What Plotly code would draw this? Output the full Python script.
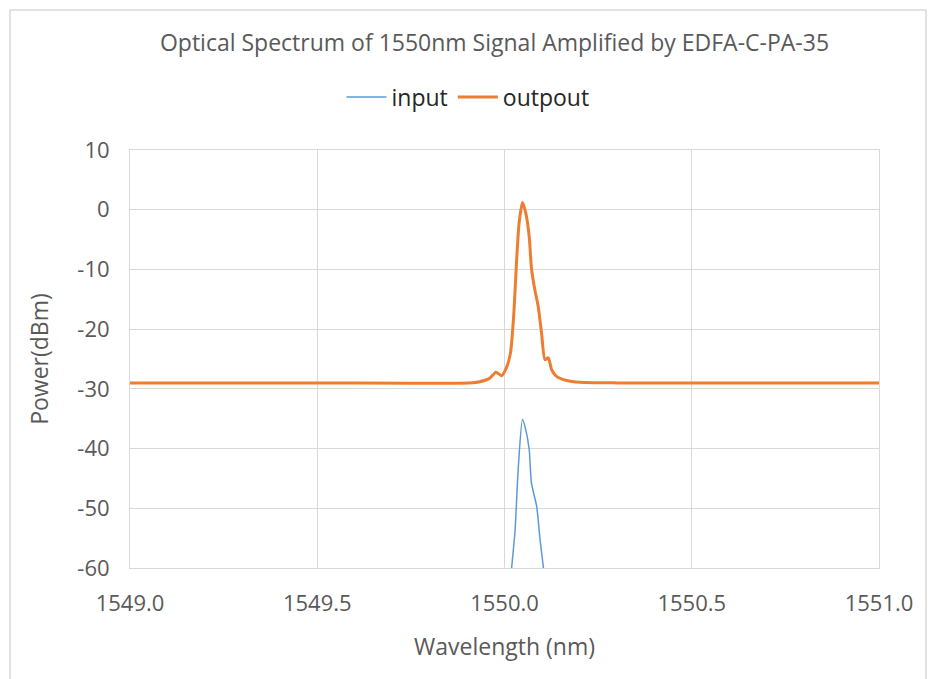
import plotly.graph_objects as go

# Output (amplified) spectrum
out_wl = [1549.0, 1549.5, 1549.905, 1549.934, 1549.961, 1549.977, 1549.992, 1550.005, 1550.016,
          1550.025, 1550.032, 1550.039, 1550.048, 1550.057, 1550.066, 1550.072, 1550.081,
          1550.090, 1550.099, 1550.108, 1550.117, 1550.126, 1550.139, 1550.166, 1550.202,
          1550.3, 1550.5, 1551.0]
out_dbm = [-29.0, -29.0, -29.0, -28.8, -28.2, -27.2, -27.8, -26.5, -24.0,
           -17.3, -8.9, -2.2, 1.2, -0.6, -4.5, -9.8, -13.4,
           -16.2, -20.7, -25.1, -24.8, -26.8, -27.9, -28.6, -28.9,
           -29.0, -29.0, -29.0]

# Input spectrum (below -60 dBm outside the peak)
in_wl = [1550.015, 1550.019, 1550.028, 1550.037, 1550.048, 1550.057, 1550.066, 1550.072,
         1550.086, 1550.095, 1550.104, 1550.107]
in_dbm = [-63.0, -60.0, -53.9, -43.0, -35.1, -36.9, -40.2, -45.8,
          -49.7, -55.3, -60.0, -62.0]

x_ticks = [1549.0, 1549.5, 1550.0, 1550.5, 1551.0]
x_tick_labels = ["1549.0", "1549.5", "1550.0", "1550.5", "1551.0"]
y_ticks = [10, 0, -10, -20, -30, -40, -50, -60]
y_tick_labels = ["10", "0", "-10", "-20", "-30", "-40", "-50", "-60"]

FONT = "'Open Sans', 'Noto Sans', sans-serif"
TXT = "#595959"

L, R, T, B = 130, 879, 150, 568
W, H = 928, 679
PW, PH = R - L, B - T

fig = go.Figure()
fig.add_trace(go.Scatter(x=in_wl, y=in_dbm, mode="lines", name="input",
                         line=dict(color="#5b9bd5", width=1.5, shape="spline", smoothing=0.6)))
fig.add_trace(go.Scatter(x=out_wl, y=out_dbm, mode="lines", name="outpout",
                         line=dict(color="#ed7d31", width=3, shape="spline", smoothing=0.6)))

fig.update_layout(
    width=W, height=H,
    paper_bgcolor="white", plot_bgcolor="white",
    margin=dict(l=L, r=W - R, t=T, b=H - B),
    font=dict(family=FONT, color=TXT, size=22),
    title=dict(text="Optical Spectrum of 1550nm Signal Amplified by EDFA-C-PA-35",
               x=(494.5 - L) / PW, xref="paper", xanchor="center", y=1 - 43 / H, yanchor="middle",
               font=dict(size=23, color=TXT, family=FONT)),
    legend=dict(orientation="h", x=(468 - L) / PW, xanchor="center", y=1 + (T - 97) / PH,
                yanchor="middle", font=dict(size=23, color="#262626", family=FONT),
                itemwidth=40, tracegroupgap=0),
    showlegend=True,
    xaxis=dict(range=[1549.0, 1551.0], tickvals=x_ticks, ticktext=x_tick_labels,
               showgrid=True, gridcolor="#d9d9d9", gridwidth=1,
               showline=True, linecolor="#d9d9d9", mirror=True, linewidth=1,
               zeroline=False, ticks="", ticklabelstandoff=16,
               tickfont=dict(size=22, color=TXT, family=FONT),
               title=dict(text="Wavelength (nm)", font=dict(size=23, color=TXT, family=FONT),
                          standoff=22)),
    yaxis=dict(range=[-60, 10], tickvals=y_ticks, ticktext=y_tick_labels,
               showgrid=True, gridcolor="#d9d9d9", gridwidth=1,
               showline=True, linecolor="#d9d9d9", mirror=True, linewidth=1,
               zeroline=False, ticks="", ticklabelstandoff=15,
               tickfont=dict(size=22, color=TXT, family=FONT),
               title=dict(text="Power(dBm)", font=dict(size=23, color=TXT, family=FONT),
                          standoff=22)),
    shapes=[dict(type="rect", xref="paper", yref="paper",
                 x0=(10 - L) / PW, x1=(926 - L) / PW,
                 y0=(B - 700) / PH, y1=(B - 10) / PH,
                 line=dict(color="#d9d9d9", width=1.5), fillcolor="rgba(0,0,0,0)", layer="below")],
)

fig.write_html("out.html", config={"displayModeBar": False},
               post_script="document.body.style.margin='0';")
